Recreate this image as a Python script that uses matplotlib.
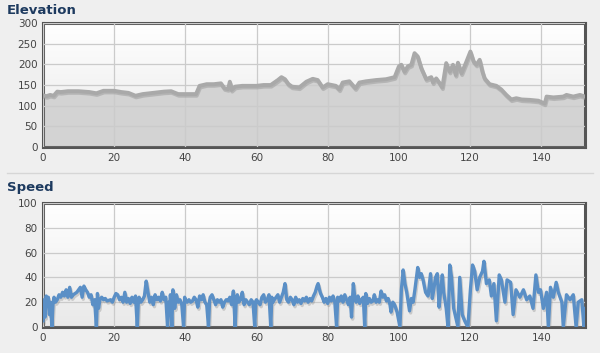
import numpy as np
import matplotlib
matplotlib.use("Agg")
import matplotlib.pyplot as plt
import matplotlib.patheffects as pe

# ---------------- data ----------------
elev_x = [0, 1, 2, 3, 4, 5, 7, 10, 13, 15, 17, 20, 22, 24, 26, 28, 30, 34, 36, 38, 40, 43,
          44, 46, 48, 50, 51, 52, 52.5, 53, 54, 56, 60, 62, 64, 66, 67, 68, 69, 70,
          72, 74, 75.8, 77.2, 78.6, 80, 82.3, 83.3, 84.2, 86.1, 87, 87.8, 88.9, 90.8,
          93.6, 96.4, 98.8, 100, 100.7, 101.6, 102.5, 103.5, 104.4, 105.3, 106.3,
          107.7, 109.1, 109.6, 110.5, 111.5, 112.2, 113.3, 114.3, 115.2, 116, 116.6,
          117.6, 119, 120.1, 121, 121.8, 122.7, 123.5, 124.1, 125.5, 127.4, 128.8,
          130.2, 131.6, 133, 134.5, 136.8, 139.2, 141, 141.5, 143.4, 146.2, 147.1,
          149, 150.9, 152.3]
elev_y = [125, 123, 126, 124, 134, 133, 135, 135, 133, 130, 136, 136, 133, 131, 124, 128,
          130, 134, 135, 128, 128, 128,
          148, 152, 152, 154, 142, 140, 158, 138, 146, 148, 148, 150, 150, 162, 169, 164,
          152, 146,
          144, 158, 165, 162, 144, 152, 148, 139, 156, 159, 150, 142, 156, 159,
          162, 164, 169, 195, 199, 182, 195, 199, 227, 219, 191,
          164, 169, 156, 166, 154, 144, 203, 182, 199, 174, 204,
          178, 207, 231, 207, 199, 211, 182, 166, 152, 148, 139,
          126, 115, 118, 115, 114, 112, 105, 122, 120, 122, 126,
          122, 126, 122]

speed_x = [0.0, 0.3, 0.6, 0.9, 1.2, 1.5, 1.8, 2.1, 2.5, 2.8, 3.1, 3.5, 4, 4.5, 5, 5.5, 6,
           6.5, 7, 7.5, 8, 8.5, 9, 9.5, 10, 10.5, 11, 11.5, 12, 12.5, 13, 13.5, 14, 14.5,
           15, 15.3, 15.6, 16, 16.5, 17, 17.5, 18, 19, 19.5, 20, 20.5, 21, 21.5, 22, 22.5,
           23, 23.5, 24, 24.5, 25, 25.5, 26, 26.5, 26.8, 27, 27.5, 28, 28.5, 29, 29.5, 30,
           30.5, 31, 31.5, 32, 32.5, 33, 33.5, 34, 34.5, 35, 35.3, 35.6, 35.8, 36.2, 36.5,
           36.8, 37, 37.5, 38, 38.5, 39, 39.5, 39.8, 40, 40.5, 41, 41.5, 42, 42.5, 43,
           43.5, 44, 44.5, 45, 45.5, 46, 46.5, 46.8, 47, 47.5, 48, 48.5, 49, 49.5, 50,
           50.5, 51, 51.5, 52, 52.5, 53, 53.5, 54, 54.3, 54.6, 55, 55.5, 56, 56.5, 57,
           57.5, 58, 58.5, 59, 59.5, 59.8, 60, 60.5, 61, 61.5, 62, 62.5, 63, 63.5, 64,
           64.3, 64.6, 65, 65.5, 66, 66.5, 67, 67.5, 68, 68.5, 69, 69.5,
           70, 70.5, 71, 71.5, 72, 72.5, 73, 73.5, 74, 74.5, 75, 75.5, 76, 76.5, 77,
           77.3, 77.7, 78, 78.5, 79, 79.5, 80, 80.5, 81, 81.5, 82, 82.5, 82.8, 83.3,
           83.8, 84.3, 84.8, 85.3, 85.8, 86.3, 86.7, 87.2, 87.6, 88, 88.5, 89, 89.5,
           90, 90.4, 90.7, 91.2, 91.7, 92.2, 92.7, 93.1, 93.6, 94, 94.5, 95, 95.5, 96,
           96.5, 97, 97.5, 97.8, 98.3, 98.8, 99.5, 100.3, 100.7, 101.2, 101.7, 102.2,
           103, 103.5, 104, 104.5, 105.3, 105.8, 106.3, 106.8, 107.5, 108.2, 108.9,
           109.4, 109.8, 110.3, 110.8, 111.3, 111.7, 112.2, 112.6,
           113.3, 113.8, 114.3, 114.8, 115.4,
           116.2, 116.6, 117.1, 117.8, 118.5, 119.4, 120.1, 120.7, 121.3, 122, 122.7,
           123.5, 123.9, 124.6, 125.4, 126, 126.7, 127.4, 128.2, 128.8, 129.8, 130.4,
           131.4, 132.1, 132.9, 134, 135, 135.9, 136.8, 137.7, 138.5, 139.2, 139.8,
           140.6, 141.5, 142, 142.6, 143.4, 144.2, 144.8, 145.8, 146.2, 147.1, 148.1,
           149, 149.8, 150.4, 151.4, 152, 152.3]
speed_y = [5, 22, 8, 25, 20, 24, 10, 20, 0, 18, 24, 20, 22, 26, 24, 28, 25,
           30, 24, 32, 24, 26, 27, 28, 30, 32, 24, 33, 30, 28, 24, 26, 18, 22,
           0, 27, 15, 22, 24, 22, 23, 21, 22, 20, 24, 27, 26, 22, 24, 20,
           28, 20, 23, 19, 24, 20, 25, 0, 22, 24, 20, 22, 25, 37, 28, 20,
           24, 18, 26, 22, 24, 21, 28, 22, 24, 0, 20, 10, 26, 0, 30,
           22, 15, 26, 20, 22, 18, 0, 24, 22, 20, 22, 20, 21, 24, 22,
           16, 25, 22, 26, 20, 18, 0, 21, 24, 26, 22, 18, 22, 20, 22,
           16, 20, 22, 21, 24, 18, 29, 0, 22, 26, 20, 22, 28, 18, 22,
           20, 18, 22, 20, 0, 21, 22, 20, 18, 24, 26, 20, 22, 26, 0,
           24, 20, 22, 24, 26, 20, 24, 28, 35, 22, 20, 24,
           22, 18, 24, 20, 22, 19, 23, 21, 24, 20, 23, 21, 25, 28, 33,
           35, 30, 27, 24, 20, 23, 19, 24, 21, 25, 20, 0, 24, 21,
           25, 20, 26, 22, 18, 24, 8, 35, 24, 20, 25, 19, 22,
           24, 0, 27, 19, 23, 20, 21, 26, 20, 22, 20, 29, 24, 26,
           21, 23, 18, 12, 20, 18, 12, 0, 30, 46, 35, 28,
           13, 23, 20, 30, 48, 40, 43, 38, 28, 25, 43,
           23, 30, 40, 43, 16, 28, 42, 28,
           15, 0, 50, 40, 15,
           5, 0, 40, 10, 5, 0, 30, 50, 45, 30, 40,
           45, 53, 35, 38, 25, 35, 5, 42, 38, 20, 38,
           36, 10, 30, 24, 30, 22, 25, 15, 42, 28, 30,
           15, 28, 0, 32, 24, 36, 28, 20, 0, 26, 22,
           26, 0, 20, 22, 0, 15]

x_ticks = [0, 20, 40, 60, 80, 100, 120, 140]
elev_ticks = [0, 50, 100, 150, 200, 250, 300]
speed_ticks = [0, 20, 40, 60, 80, 100]

# ---------------- figure ----------------
BG = "#efefef"
fig = plt.figure(figsize=(6.0, 3.53), dpi=100, facecolor=BG)

W, H = 600.0, 353.0
def axrect(left, top, right, bottom):
    return [left / W, 1 - bottom / H, (right - left) / W, (bottom - top) / H]

ax1 = fig.add_axes(axrect(43, 23, 585, 147))
ax2 = fig.add_axes(axrect(43, 203, 585, 327))

grad = np.linspace(1, 0, 256).reshape(-1, 1)
def style(ax, ymax, yticks):
    ax.set_xlim(0, 152.3)
    ax.set_ylim(0, ymax)
    ax.imshow(grad, extent=[0, 152.3, 0, ymax], aspect="auto", origin="upper",
              cmap=matplotlib.colors.LinearSegmentedColormap.from_list("g", ["#e9e9e9", "#ffffff"]),
              zorder=0)
    ax.set_xticks(x_ticks)
    ax.set_yticks(yticks)
    ax.grid(True, color="#cbcbcb", linewidth=0.9, zorder=1)
    ax.tick_params(length=0, labelsize=7.5, colors="#444444", pad=4)
    for sp in ax.spines.values():
        sp.set_color("#555555")
        sp.set_linewidth(2.2)
    ax.set_axisbelow(False)

style(ax1, 300, elev_ticks)
style(ax2, 100, speed_ticks)

ax1.fill_between(elev_x, elev_y, 0, color="#d3d3d3", zorder=2)
ax1.plot(elev_x, elev_y, color="#a9a9a9", linewidth=2.8, zorder=3,
         path_effects=[pe.SimpleLineShadow(offset=(0.5, -1.2), shadow_color="#999999", alpha=0.5),
                       pe.Normal()])

ax2.plot(speed_x, speed_y, color="#5a8fc6", linewidth=2.4, zorder=3,
         path_effects=[pe.SimpleLineShadow(offset=(0.8, -1.5), shadow_color="#888888", alpha=0.35),
                       pe.Normal()])

title_color = "#1d3a5f"
fig.text(7 / W, 1 - 10 / H, "Elevation", fontsize=9.5, fontweight="bold",
         color=title_color, va="center", ha="left")
fig.text(7 / W, 1 - 188 / H, "Speed", fontsize=9.5, fontweight="bold",
         color=title_color, va="center", ha="left")
fig.add_artist(plt.Line2D([7 / W, 593 / W], [1 - 173 / H, 1 - 173 / H],
                          color="#d6d6d6", linewidth=1.0, transform=fig.transFigure))

fig.savefig("out.png", dpi=100, facecolor=BG)
